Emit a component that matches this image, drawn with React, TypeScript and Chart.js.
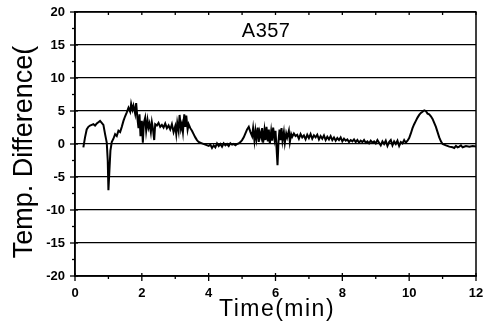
import React, { useEffect, useRef } from 'react';
import { Chart, registerables } from 'chart.js';

Chart.register(...registerables);

const timeMin: number[] = [
  0.25, 0.30, 0.35, 0.40, 0.45, 0.50, 0.55, 0.60, 0.65, 0.70, 0.75, 0.80, 0.85, 0.90, 0.95, 0.98,
  1.00, 1.03, 1.06, 1.10, 1.15, 1.20, 1.25, 1.30, 1.35, 1.40, 1.45, 1.50, 1.55, 1.60, 1.65, 1.68,
  1.72, 1.75, 1.80, 1.83, 1.87, 1.90, 1.93, 1.96, 2.00, 2.03, 2.06, 2.10, 2.13, 2.17, 2.20, 2.23,
  2.27, 2.30, 2.33, 2.37, 2.40, 2.45, 2.50, 2.55, 2.60, 2.65, 2.70, 2.75, 2.80, 2.85, 2.90, 2.95,
  3.00, 3.03, 3.06, 3.10, 3.13, 3.17, 3.20, 3.23, 3.27, 3.30, 3.33, 3.37, 3.40, 3.45, 3.50, 3.55,
  3.60, 3.65, 3.70, 3.80, 3.90, 4.00, 4.05, 4.10, 4.15, 4.20, 4.25, 4.30, 4.35, 4.40, 4.45, 4.50,
  4.55, 4.60, 4.65, 4.70, 4.75, 4.80, 4.85, 4.90, 4.95, 5.00, 5.05, 5.10, 5.15, 5.20, 5.25, 5.30,
  5.33, 5.37, 5.40, 5.43, 5.47, 5.50, 5.53, 5.57, 5.60, 5.63, 5.67, 5.70, 5.73, 5.77, 5.80, 5.83,
  5.87, 5.90, 5.93, 5.97, 6.00, 6.03, 6.06, 6.09, 6.12, 6.15, 6.18, 6.21, 6.25, 6.28, 6.32, 6.35,
  6.40, 6.43, 6.47, 6.50, 6.55, 6.60, 6.65, 6.70, 6.75, 6.80, 6.85, 6.90, 6.95, 7.00, 7.05, 7.10,
  7.15, 7.20, 7.25, 7.30, 7.35, 7.40, 7.45, 7.50, 7.55, 7.60, 7.65, 7.70, 7.75, 7.80, 7.85, 7.90,
  7.95, 8.00, 8.05, 8.10, 8.15, 8.20, 8.25, 8.30, 8.35, 8.40, 8.45, 8.50, 8.55, 8.60, 8.65, 8.70,
  8.75, 8.80, 8.85, 8.90, 8.95, 9.00, 9.05, 9.10, 9.15, 9.20, 9.25, 9.30, 9.35, 9.40, 9.45, 9.50,
  9.55, 9.60, 9.65, 9.70, 9.75, 9.80, 9.85, 9.90, 9.95, 10.00, 10.05, 10.10, 10.15, 10.20, 10.25,
  10.30, 10.35, 10.40, 10.45, 10.50, 10.55, 10.60, 10.65, 10.70, 10.75, 10.80, 10.85, 10.90, 10.95,
  11.00, 11.10, 11.20, 11.30, 11.35, 11.40, 11.45, 11.50, 11.55, 11.60, 11.70, 11.80, 11.90, 12.00,
];

const tempDiff: number[] = [
  -0.5, 1.0, 2.2, 2.6, 2.8, 2.9, 3.0, 2.8, 3.1, 3.3, 3.5, 3.2, 2.9, 1.5, 0.2, -2.5,
  -7.0, -4.0, -1.0, 0.3, 0.8, 1.5, 1.2, 2.0, 1.8, 2.6, 3.5, 4.2, 4.8, 5.5, 4.9, 6.1,
  5.2, 5.8, 4.6, 6.2, 3.8, 2.4, 4.5, 1.2, 3.5, 0.2, 3.2, 4.0, 2.0, 3.6, 2.5, 3.1,
  1.8, 3.3, 2.4, 0.6, 3.0, 2.8, 3.2, 2.6, 2.9, 2.5, 3.1, 2.4, 2.8, 2.2, 3.0, 1.8,
  2.7, 1.5, 3.2, 2.0, 4.4, 2.3, 3.0, 1.8, 4.5, 2.6, 4.3, 2.2, 3.0, 2.4, 2.0, 1.5,
  1.0, 0.6, 0.3, 0.1, -0.1, -0.3, -0.1, -0.6, -0.2, -0.5, 0.1, -0.3, 0.0, -0.4, 0.1, -0.2,
  0.0, -0.3, 0.1, -0.1, 0.0, -0.2, 0.0, 0.1, 0.3, 0.6, 1.0, 1.6, 2.2, 2.6, 1.8, 1.2,
  2.4, 0.5, 2.0, 0.8, 2.5, 0.3, 1.8, 1.0, 2.4, 0.2, 2.1, 0.6, 2.6, 0.4, 2.2, 0.0,
  1.9, 0.5, 2.5, 0.8, 2.0, -0.5, -3.2, 0.4, 2.2, 0.6, 2.4, 0.5, 1.8, 0.2, 1.6, 1.0,
  2.0, 0.3, 1.5, 1.1, 1.6, 1.2, 1.4, 0.8, 1.5, 1.0, 1.3, 0.7, 1.4, 0.9, 1.5, 0.8,
  1.3, 1.0, 1.4, 0.7, 1.2, 0.8, 1.3, 0.6, 1.1, 0.7, 1.2, 0.6, 1.0, 0.5, 0.9, 0.6,
  1.0, 0.4, 0.8, 0.5, 0.7, 0.3, 0.6, 0.4, 0.7, 0.3, 0.6, 0.2, 0.5, 0.3, 0.6, 0.2,
  0.4, 0.1, 0.5, 0.2, 0.4, 0.1, 0.6, 0.2, -0.2, 0.4, 0.0, 0.5, -0.3, 0.3, 0.6, -0.2,
  0.4, 0.0, 0.5, -0.3, 0.3, 0.1, 0.6, 0.2, 0.5, 0.9, 1.6, 2.4, 3.0, 3.5, 4.0,
  4.4, 4.7, 4.9, 5.1, 5.0, 4.6, 4.5, 4.2, 3.8, 3.2, 2.6, 1.8, 1.0, 0.4,
  0.0, -0.2, -0.4, -0.5, -0.6, -0.3, -0.5, -0.4, -0.2, -0.5, -0.3, -0.4, -0.3, -0.4,
];

const xMin = 0;
const xMax = 12;
const xMinorStep = 1;
const xLabelStep = 2;
const yMin = -20;
const yMax = 20;
const yMinorStep = 2.5;
const yLabelStep = 5;

const chartTitle = 'A357';
const xTitle = 'Time(min)';
const yTitle = 'Temp. Difference(';

const FONT = '"Liberation Sans", Arial, Helvetica, sans-serif';

const isMajor = (v: number, step: number) => Math.abs(v % step) < 1e-9;

export default function App() {
  const ref = useRef<HTMLCanvasElement>(null);

  useEffect(() => {
    document.body.style.margin = '0';
    const canvas = ref.current;
    if (!canvas) return;
    const c2d: any = canvas.getContext('2d');
    if (c2d && 'letterSpacing' in c2d) c2d.letterSpacing = '1px';

    const decor = {
      id: 'decor',
      afterDraw(chart: any) {
        const { ctx, chartArea: a, scales } = chart;
        ctx.save();
        ctx.strokeStyle = '#000';
        ctx.lineWidth = 1.5;
        ctx.strokeRect(a.left, a.top, a.right - a.left, a.bottom - a.top);
        ctx.lineWidth = 1.3;
        for (let v = xMin; v <= xMax + 1e-9; v += xMinorStep) {
          const x = scales.x.getPixelForValue(v);
          const major = isMajor(v, xLabelStep);
          ctx.beginPath();
          ctx.moveTo(x, a.bottom - (major ? 3 : 0));
          ctx.lineTo(x, a.bottom + (major ? 5 : 3));
          ctx.moveTo(x, a.top);
          ctx.lineTo(x, a.top + 3);
          ctx.stroke();
        }
        for (let v = yMin; v <= yMax + 1e-9; v += yMinorStep) {
          const y = scales.y.getPixelForValue(v);
          const major = isMajor(v, yLabelStep);
          ctx.beginPath();
          ctx.moveTo(a.left - (major ? 5 : 3), y);
          ctx.lineTo(a.left + (major ? 3 : 0), y);
          ctx.stroke();
        }
        ctx.fillStyle = '#000';
        ctx.textAlign = 'center';
        ctx.textBaseline = 'alphabetic';
        if ('letterSpacing' in ctx) (ctx as any).letterSpacing = '0.5px';
        ctx.font = `20px ${FONT}`;
        ctx.fillText(chartTitle, scales.x.getPixelForValue(5.72), 37);
        if ('letterSpacing' in ctx) (ctx as any).letterSpacing = '1.5px';
        ctx.font = `23px ${FONT}`;
        ctx.fillText(xTitle, 277, 316);
        if ('letterSpacing' in ctx) (ctx as any).letterSpacing = '0px';
        ctx.translate(32, 152);
        ctx.rotate(-Math.PI / 2);
        ctx.font = `27px ${FONT}`;
        ctx.fillText(yTitle, 0, 0);
        ctx.restore();
      },
    };

    const chart = new Chart(canvas, {
      type: 'line',
      data: {
        labels: timeMin,
        datasets: [
          {
            data: timeMin.map((t, i) => ({ x: t, y: tempDiff[i] })),
            borderColor: '#000',
            borderWidth: 2,
            pointRadius: 0,
            tension: 0,
            fill: false,
          },
        ],
      },
      options: {
        animation: false,
        responsive: false,
        devicePixelRatio: 1,
        layout: { padding: { top: 12, right: 19, left: 0, bottom: 0 }, autoPadding: false },
        plugins: { legend: { display: false }, tooltip: { enabled: false }, title: { display: false } },
        scales: {
          x: {
            type: 'linear',
            min: xMin,
            max: xMax,
            afterFit: (s: any) => { s.height = 49; s.paddingLeft = 0; s.paddingRight = 0; },
            border: { display: true, color: '#000', width: 1.5 },
            grid: { drawOnChartArea: false, drawTicks: false },
            ticks: {
              stepSize: xMinorStep,
              autoSkip: false,
              maxRotation: 0,
              padding: 10,
              color: '#000',
              font: { family: FONT, size: 13, weight: 'bold' },
              callback: (v: any) => (isMajor(Number(v), xLabelStep) ? String(v) : ''),
            },
          },
          y: {
            type: 'linear',
            min: yMin,
            max: yMax,
            afterFit: (s: any) => { s.width = 75; s.paddingTop = 0; s.paddingBottom = 0; },
            border: { display: true, color: '#000', width: 1.5 },
            grid: {
              drawOnChartArea: true,
              drawTicks: false,
              lineWidth: 1.3,
              color: (c: any) => (c.tick && isMajor(c.tick.value, yLabelStep) ? '#000' : 'rgba(0,0,0,0)'),
            },
            ticks: {
              stepSize: yMinorStep,
              autoSkip: false,
              padding: 10,
              color: '#000',
              font: { family: FONT, size: 13, weight: 'bold' },
              callback: (v: any) => (isMajor(Number(v), yLabelStep) ? String(v) : ''),
            },
          },
        },
      },
      plugins: [decor],
    } as any);

    return () => chart.destroy();
  }, []);

  return (
    <div style={{ width: 495, height: 325, background: '#fff' }}>
      <canvas ref={ref} width={495} height={325} />
    </div>
  );
}
